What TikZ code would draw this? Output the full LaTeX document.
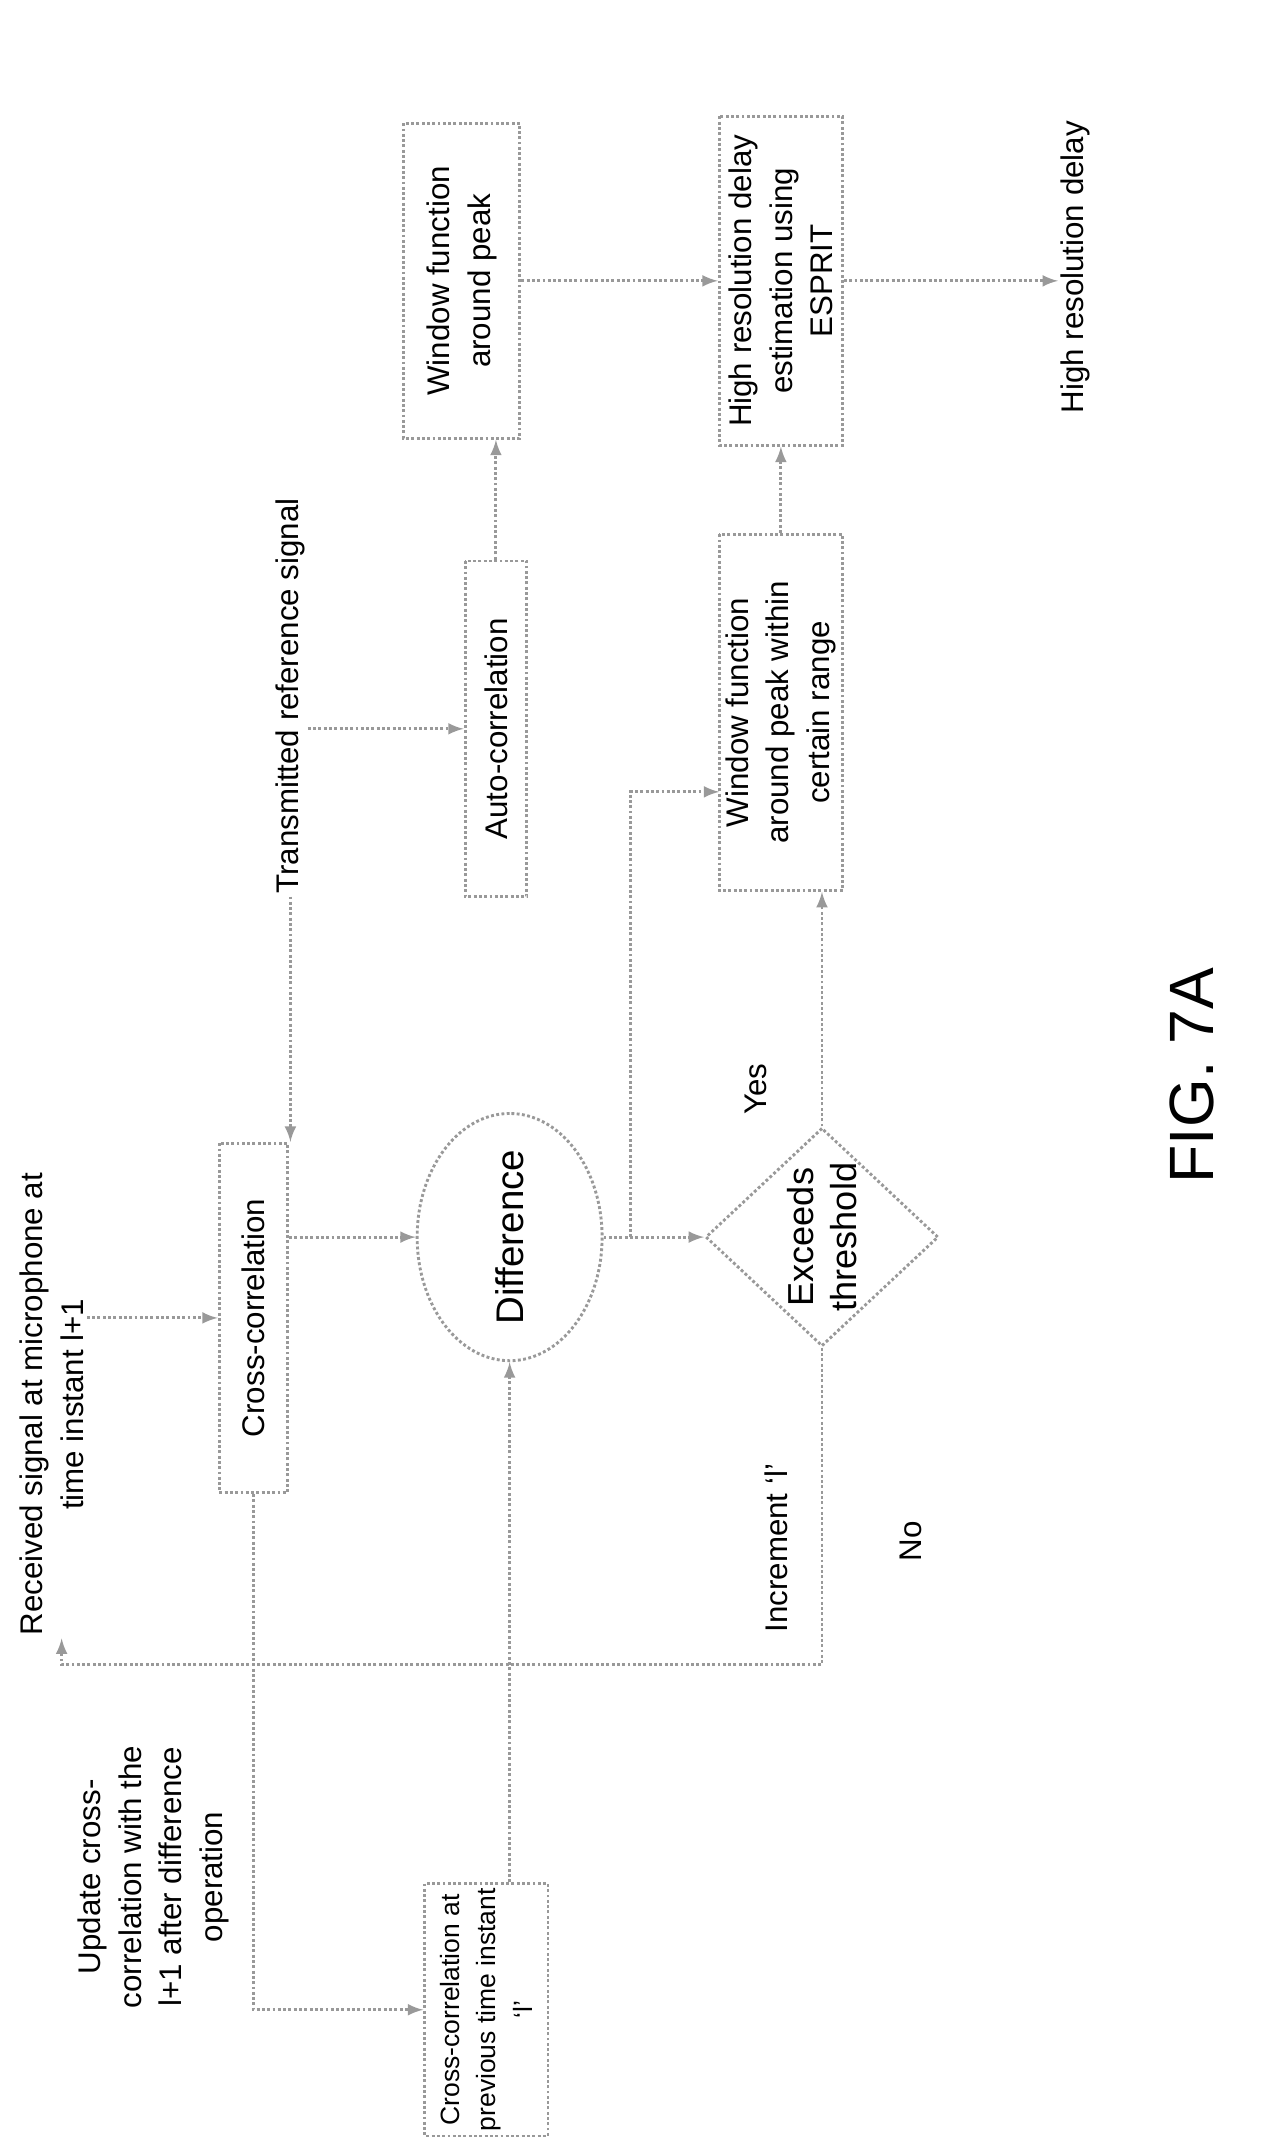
\documentclass[tikz,border=0pt]{standalone}
\usepackage{fontspec}
\setmainfont{Liberation Sans}
\usetikzlibrary{shapes.geometric}

\tikzset{
  blk/.style={draw=gray!80, densely dotted, line width=1.2pt, rotate=90, align=center, inner sep=2pt},
  txt/.style={rotate=90, align=center, inner sep=1pt},
  arr/.style={draw=gray!80, densely dotted, line width=1.2pt, -latex},
}

\begin{document}
\begin{tikzpicture}[x=0.02cm, y=-0.02cm, font=\fontsize{13}{17}\selectfont]

  % page frame
  \useasboundingbox (0,0) rectangle (940,1565);

  % texts
  \node[txt] (upd) at (112,1370) {Update cross-\\correlation with the\\l+1 after difference\\operation};
  \node[txt] (rcv) at (38,1025) {Received signal at microphone at\\time instant l+1};
  \node[txt] (trx) at (212,508) {Transmitted reference signal};
  \node[txt] (out) at (785,195) {High resolution delay};

  % blocks
  \node[blk, minimum width=175*0.02cm, minimum height=90*0.02cm, font=\fontsize{11}{15}\selectfont] (prev) at (355,1467) {Cross-correlation at\\previous time instant\\`l'};
  \node[blk, minimum width=255*0.02cm, minimum height=50*0.02cm] (cc) at (185,962) {Cross-correlation};
  \node[blk, ellipse, minimum width=145*0.02cm, minimum height=135*0.02cm, inner sep=0pt, font=\fontsize{16}{19}\selectfont] (diff) at (372,903) {Difference};
  \node[blk, diamond, minimum width=150*0.02cm, minimum height=170*0.02cm, inner sep=0pt, font=\fontsize{15}{18}\selectfont] (exc) at (600,903) {Exceeds\\threshold};
  \node[blk, minimum width=245*0.02cm, minimum height=45*0.02cm] (auto) at (362,532) {Auto-correlation};
  \node[blk, minimum width=230*0.02cm, minimum height=85*0.02cm] (win) at (337,205) {Window function\\around peak};
  \node[blk, minimum width=260*0.02cm, minimum height=90*0.02cm] (wr) at (570,520) {Window function\\around peak within\\certain range};
  \node[blk, minimum width=240*0.02cm, minimum height=90*0.02cm] (esp) at (570,205) {High resolution delay\\estimation using\\ESPRIT};

  % labels
  \node[txt] (inc) at (567,1130) {Increment `l'};
  \node[txt] (no) at (665,1125) {No};
  \node[txt] (yes) at (552,795) {Yes};
  \node[txt, font=\fontsize{26}{30}\selectfont] (fig) at (870,785) {FIG. 7A};

  % helper points
  \coordinate (br) at (460,903);
  \coordinate (wrin) at (525,578);
  \coordinate (lp) at (45,1215);

  % connectors
  \draw[arr] (rcv.south |- cc.north) -- (cc.north);
  \draw[arr] (trx.west) -- (trx.west |- cc.east);
  \draw[arr] (trx.south |- auto.north) -- (auto.north);
  \draw[arr] (auto.east) -- (auto.east |- win.west);
  \draw[arr] (win.south) -- (esp.north);
  \draw[arr] (cc.south |- diff.north) -- (diff.north);
  \draw[arr] (prev.east -| diff.west) -- (diff.west);
  \draw[arr] (diff.south) -- (exc.north);
  \draw[arr] (br) |- (wrin);
  \draw[arr] (exc.east) -- (exc.east |- wr.west);
  \draw[arr] (wr.east) -- (wr.east |- esp.west);
  \draw[arr] (esp.south) -- (esp.south -| out.north);
  \draw[arr] (exc.west) |- (lp) -- (lp |- rcv.west);
  \draw[arr] (cc.west) |- (prev.north);

\end{tikzpicture}
\end{document}
